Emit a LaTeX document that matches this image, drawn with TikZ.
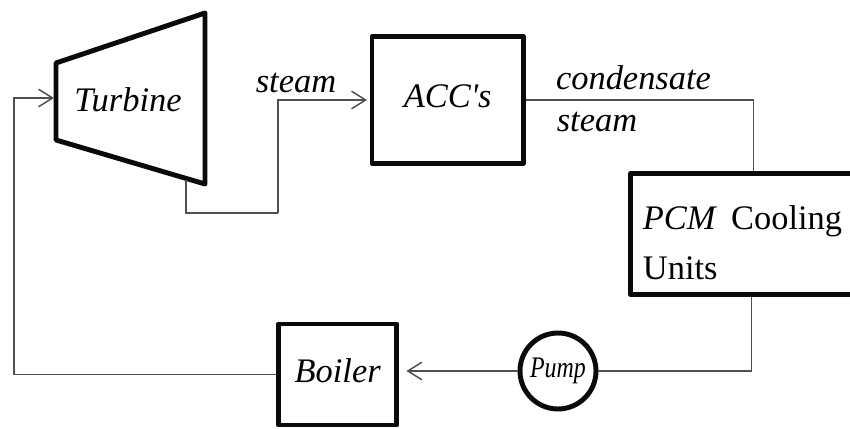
\documentclass[tikz,border=0pt]{standalone}
\usepackage{fontspec}
\setmainfont{Liberation Serif}
\usetikzlibrary{arrows.meta, positioning, calc}
\definecolor{coal}{RGB}{10,10,10}
\definecolor{pipegray}{RGB}{80,80,80}

\begin{document}
\begin{tikzpicture}[x=0.02cm, y=-0.02cm,
    >={Straight Barb[length=8pt,width=10pt]},
    font=\fontsize{19.6}{28}\selectfont,
    unit/.style={draw=coal, line width=2.8pt, line join=round,
                 fill=white, inner sep=0pt},
    pipe/.style={pipegray, line width=0.85pt},
    lbl/.style={font=\fontsize{19.6}{28}\selectfont\itshape, inner sep=0pt}]
  \useasboundingbox (0,0) rectangle (850,429);

  % turbine casing
  \draw[coal, line width=2.8pt, line join=round]
    (56,63) -- (205,13) -- (205,184) -- (56,140) -- cycle;
  \node[lbl] (turbine) at (128,100) {Turbine};
  \coordinate (tin)   at (54,98);
  \coordinate (tout)  at (186,180);
  \coordinate (tbend) at (278,213);

  % condenser and PCM units
  \node[unit, minimum width=3.03cm, minimum height=2.53cm,
        font=\fontsize{19.6}{28}\selectfont\itshape, text depth=0.16cm]
    (acc) at (447.7,100) {ACC\textquotesingle s};
  \node[unit, minimum width=4.78cm, minimum height=2.43cm,
        text width=4.3cm, inner xsep=0.24cm, align=left]
    (pcm) at (750.4,234) {\rule{0pt}{0.83cm}\textit{PCM}\hspace{0.28cm}Cooling\\Units};
  \coordinate (pcmin)  at ($(pcm.north west)+(125,0)$);
  \coordinate (pcmout) at ($(pcm.south west)+(123,0)$);

  % boiler and pump
  \node[unit, minimum width=2.37cm, minimum height=2.02cm,
        font=\fontsize{19.6}{28}\selectfont\itshape, text depth=0.16cm]
    (boiler) at (337.7,374.5) {Boiler};
  \node[unit, circle, minimum size=1.52cm,
        font=\fontsize{17}{17}\selectfont]
    (pump) at (558,371) {\scalebox{0.8}[1]{\textit{Pump}}};

  % steam lines
  \draw[pipe] (tout) |- (tbend);
  \draw[pipe, ->, shorten >=1.4pt] (tbend) |- (acc.west);
  \node[lbl] (steamin) at (296,83) {steam};
  \draw[pipe] (acc.east) -| (pcmin);
  \node[lbl] (cond) at (633.5,78) {condensate};
  \node[lbl] (steamout) at (597,122) {steam};

  % feed water loop
  \draw[pipe] (pcmout) |- (pump.east);
  \draw[pipe, ->, shorten >=4pt] (pump.west) -- (boiler.east |- pump.west);
  \draw[pipe, ->] (boiler.west) -| ($(tin)+(-40,0)$) -- (tin);
\end{tikzpicture}
\end{document}
